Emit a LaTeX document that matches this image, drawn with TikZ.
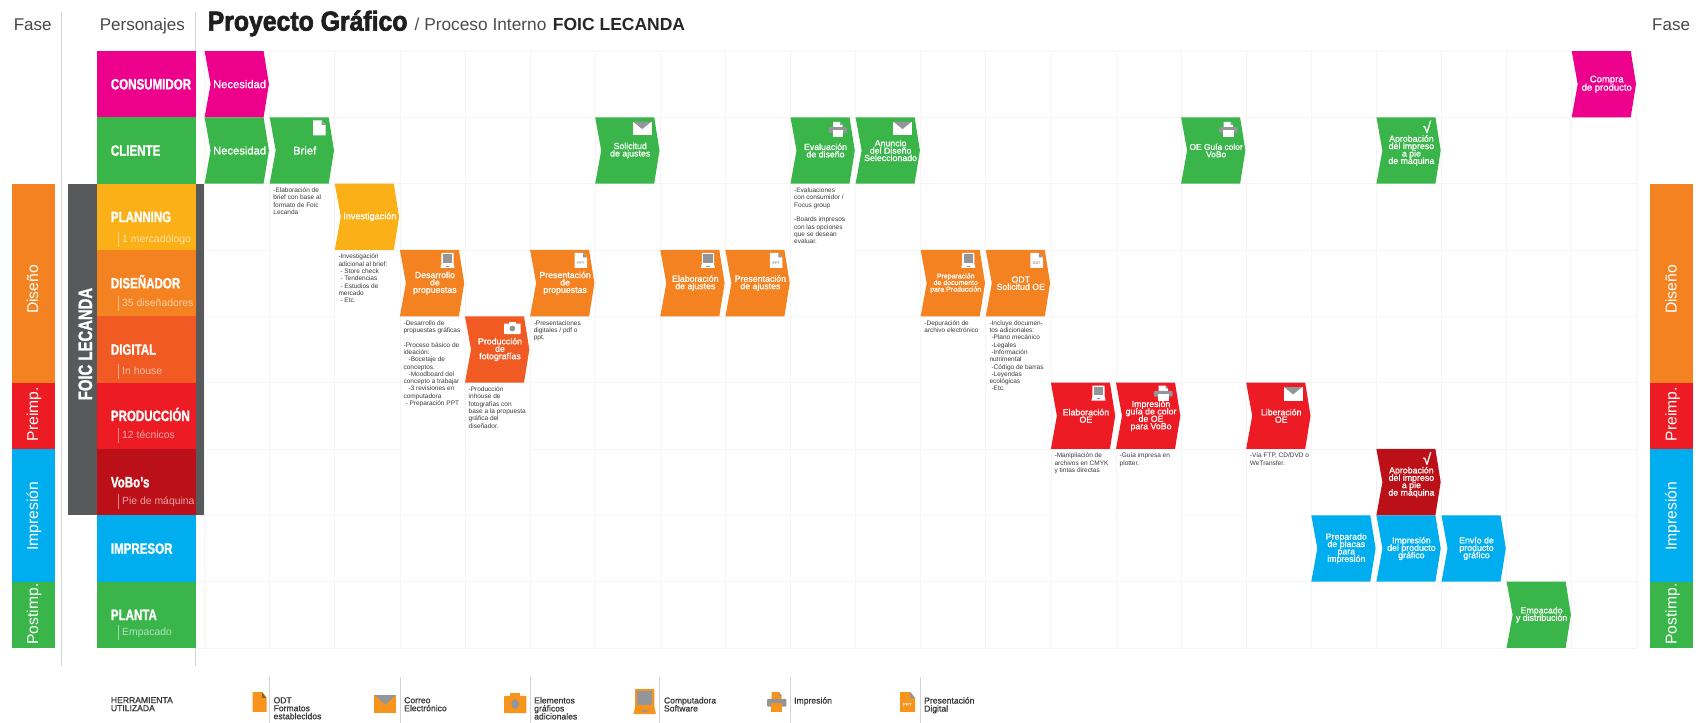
\documentclass[tikz,border=0pt]{standalone}
\usepackage{fontspec}
\usepackage{tikz}
\setmainfont{Liberation Sans}
\newfontface\lanefont{Liberation Sans Bold}[FakeStretch=0.77,FakeBold=1.2]
\newfontface\titlefont{Liberation Sans Bold}[FakeStretch=0.905,FakeBold=2.5]
\newfontface\stepfont{Liberation Sans}[FakeBold=1.1]
\lineskiplimit=-100pt
\definecolor{magentaC}{HTML}{EC008C}
\definecolor{greenC}{HTML}{39B54A}
\definecolor{yellowC}{HTML}{FBB017}
\definecolor{orangeC}{HTML}{F58220}
\definecolor{digitalC}{HTML}{F15A22}
\definecolor{redC}{HTML}{ED1C24}
\definecolor{vinoC}{HTML}{BC1018}
\definecolor{blueC}{HTML}{00AEEF}
\definecolor{barC}{HTML}{58595B}
\definecolor{gridC}{HTML}{F5F5F5}
\definecolor{ruleC}{HTML}{D4D4D4}
\definecolor{iconC}{HTML}{939598}
\definecolor{toolC}{HTML}{F7941E}
\definecolor{foldC}{HTML}{8C6A1A}
\definecolor{noteC}{HTML}{3A3A3A}
\tikzset{
  x=1pt,y=-1pt,
  steplabel/.style={text=white,align=center,inner sep=0pt,font=\stepfont\fontsize{8.8}{7.4}\selectfont},
  bigstep/.style={font=\stepfont\fontsize{11.2}{11}\selectfont},
  smallstep/.style={font=\stepfont\fontsize{7}{6.6}\selectfont},
  notetext/.style={anchor=north west,align=left,inner sep=0pt,text=noteC,font=\fontsize{6.5}{7.3}\selectfont},
  lanetitle/.style={anchor=west,inner sep=0pt,text=white,text height=10.8pt,text depth=0pt,font=\lanefont\fontsize{15}{15}\selectfont},
  lanesub/.style={anchor=west,inner sep=0pt,text=white,text opacity=.62,text height=7.3pt,text depth=0pt,font=\fontsize{10.4}{11}\selectfont},
  fasetext/.style={anchor=base,rotate=90,inner sep=0pt,text=white,font=\fontsize{15.7}{16}\selectfont},
  headtext/.style={anchor=base west,inner sep=0pt,text=black!72,font=\fontsize{17}{18}\selectfont},
  tooltext/.style={anchor=north west,align=left,inner sep=0pt,text=noteC,font=\stepfont\fontsize{8.6}{8}\selectfont},
  doctext/.style={inner sep=0pt,text=iconC,font=\bfseries\fontsize{3.6}{4}\selectfont},
  toolicon/.style={doctext/.append style={text=white,font=\bfseries\fontsize{4.4}{5}\selectfont}},
  cell/.style n args={4}{shift={({204.6+65.1*#1+#3},{51+66.33*#2+#4})}},
}
\newcommand{\flowstep}[6][]{\pgfmathsetmacro{\cellx}{204.6+65.1*#2}\pgfmathsetmacro{\celly}{51+66.33*#3}
\fill [#4] (\cellx,\celly) -- ++(59,0) -- ++(5.3,33.15) -- ++(-5.3,33.15) -- ++(-59,0) -- ++(6,-33.15) -- cycle;
\node at (\cellx+35,\celly+33.15) (#5) [steplabel,#1] {#6};}
\newcommand{\flownote}[5]{\pgfmathsetmacro{\cellx}{204.6+65.1*#1}\pgfmathsetmacro{\celly}{51+66.33*#2}
\fill [white] (\cellx+.8,\celly+.8) rectangle (\cellx+64.3,\celly+#3);
\node at (\cellx+3.5,\celly+4) (#4) [notetext] {#5};}
\newcommand{\flowlane}[6]{\pgfmathsetmacro{\celly}{51+66.33*#1}
\fill [#2] (97,\celly) rectangle (195.7,\celly+66.33);
\node at (110.7,\celly+33) (#3) [lanetitle] {#4};
\ifx&#5&\else
\draw [white,opacity=.5,line width=.8pt] (118,\celly+#6-7) -- (118,\celly+#6+8);
\node at (122,\celly+#6) (#3sub) [lanesub] {#5};
\fi}
\newcommand{\flowfase}[6]{\fill [#3] (#1,#4) rectangle (#1+42.7,#5);
\node at (#1+26.2,#6) (#2) [fasetext] {#2};}
\newcommand{\flowdoc}[5]{\begin{scope}[#1]
\fill [#2] (0,0) -- (8.5,0) -- (12.5,4.5) -- (12.5,15) -- (0,15) -- cycle;
\fill [#3] (8.5,0) -- (12.5,4.5) -- (8.5,4.5) -- cycle;
\ifx&#4&\else\node at (6.2,9.8) (#5) [doctext] {#4};\fi
\end{scope}}
\newcommand{\flowmail}[3]{\begin{scope}[#1]
\fill [#2] (0,0) rectangle (19.3,13.6);
\fill [#3] (.6,0) -- (18.7,0) -- (9.65,7.4) -- cycle;
\end{scope}}
\newcommand{\flowprint}[4]{\begin{scope}[#1]
\fill [#2] (4.5,0) -- (11.5,0) -- (14,3) -- (14,6.5) -- (4.5,6.5) -- cycle;
\fill [#4] (11.5,0) -- (14,3) -- (11.5,3) -- cycle;
\fill [#3,rounded corners=1pt] (0,5.2) rectangle (18.5,11);
\fill [#2] (4,8.6) rectangle (14.5,15);
\end{scope}}
\newcommand{\flowpc}[3]{\begin{scope}[#1]
\fill [#2,rounded corners=.6pt] (1,0) rectangle (13.2,11.5);
\fill [#3] (2.4,1.4) rectangle (11.8,9.6);
\fill [#2] (1,10.8) -- (13.2,10.8) -- (14.2,15) -- (0,15) -- cycle;
\fill [#3] (5.4,12.6) rectangle (8.8,13.6);
\end{scope}}
\newcommand{\flowcam}[3]{\begin{scope}[#1]
\fill [#2,rounded corners=.6pt] (0,1.8) rectangle (16.7,12.3);
\fill [#2] (4.5,0) rectangle (12,2);
\fill [#3] (8.35,6.8) circle (2.9);
\end{scope}}
\newcommand{\flowcheck}[3]{\pgfmathsetmacro{\cellx}{204.6+65.1*#1}\pgfmathsetmacro{\celly}{51+66.33*#2}
\node at (\cellx+50.5,\celly+9.5) (#3) [inner sep=0pt,text=white,font=\stepfont\fontsize{15.5}{15.5}\selectfont] {√};}
\newcommand{\flowtool}[3]{\draw [ruleC,line width=.9pt] (#1,677) -- (#1,723);
\node at (#1+4,697) (#2) [tooltext] {#3};}

\begin{document}
\begin{tikzpicture}
\useasboundingbox (0,0) rectangle (1701,723);

\foreach \i in {0,...,22} {\draw [gridC,line width=.8pt] ({204.6+65.1*\i},51) -- ({204.6+65.1*\i},648);}
\foreach \j in {0,...,9} {\draw [gridC,line width=.8pt] (195.7,{51+66.33*\j}) -- (1636.8,{51+66.33*\j});}

\draw [ruleC,line width=1.5pt] (61.4,12) -- (61.4,666);
\draw [ruleC,line width=1.2pt] (195.7,12) -- (195.7,666);

\node at (13.6,30.5) (faseizq) [headtext] {Fase};
\node at (1652,30.5) (faseder) [headtext] {Fase};
\node at (99.6,30.5) (personajes) [headtext] {Personajes};
\node at (207.5,30.6) (titulo) [anchor=base west,inner sep=0pt,text=black!88,font=\titlefont\fontsize{27.4}{28}\selectfont] {Proyecto Gráfico};
\node at (414.5,30.6) (proceso) [headtext,text=black!70,font=\fontsize{17.3}{18}\selectfont] {/ Proceso Interno};
\node at (552.7,30.6) (foictitulo) [anchor=base west,inner sep=0pt,text=black!85,font=\bfseries\fontsize{17.5}{18}\selectfont] {FOIC LECANDA};

\flowfase{12}{Diseño}{orangeC}{183.7}{382.7}{289.5}
\flowfase{12}{Preimp.}{redC}{382.7}{449}{414}
\flowfase{12}{Impresión}{blueC}{449}{581.7}{516}
\flowfase{12}{Postimp.}{greenC}{581.7}{648}{614}
\flowfase{1650.3}{Diseño}{orangeC}{183.7}{382.7}{289.5}
\flowfase{1650.3}{Preimp.}{redC}{382.7}{449}{414}
\flowfase{1650.3}{Impresión}{blueC}{449}{581.7}{516}
\flowfase{1650.3}{Postimp.}{greenC}{581.7}{648}{614}

\fill [barC] (68,183.7) rectangle (204.3,515.3);
\node at (92,344) (foic) [anchor=base,rotate=90,inner sep=0pt,text=white,font=\lanefont\fontsize{19.3}{20}\selectfont] {FOIC LECANDA};

\flowlane{0}{magentaC}{consumidor}{CONSUMIDOR}{}{}
\flowlane{1}{greenC}{cliente}{CLIENTE}{}{}
\flowlane{2}{yellowC}{planning}{PLANNING}{1 mercadólogo}{55}
\flowlane{3}{orangeC}{disenador}{DISEÑADOR}{35 diseñadores}{52.7}
\flowlane{4}{digitalC}{digital}{DIGITAL}{In house}{54.7}
\flowlane{5}{redC}{produccion}{PRODUCCIÓN}{12 técnicos}{52}
\flowlane{6}{vinoC}{vobo}{VoBo’s}{Pie de máquina}{52}
\flowlane{7}{blueC}{impresor}{IMPRESOR}{}{}
\flowlane{8}{greenC}{planta}{PLANTA}{Empacado}{50.3}

\flownote{1}{2}{132}{notebrief}{-Elaboración de\\brief con base al\\formato de Foic\\Lecanda}
\flownote{2}{3}{125}{noteinvest}{-Investigación\\adicional al brief:\\\hspace*{2pt}- Store check\\\hspace*{2pt}- Tendencias\\\hspace*{2pt}- Estudios de\\mercado\\\hspace*{2pt}- Etc.}
\flownote{3}{4}{155}{notedesarrollo}{-Desarrollo de\\propuestas gráficas\\[7.3pt]-Proceso básico de\\ideación:\\\hspace*{5pt}-Bocetaje de\\conceptos.\\\hspace*{5pt}-Moodboard del\\concepto a trabajar\\\hspace*{5pt}-3 revisiones en\\computadora\\\hspace*{2pt}- Preparación PPT}
\flownote{4}{5}{87}{notefotos}{-Producción\\inhouse de\\fotografías con\\base a la propuesta\\gráfica del\\diseñador.}
\flownote{5}{4}{60}{notepresenta}{-Presentaciones\\digitales / pdf o\\ppt.}
\flownote{9}{2}{88}{noteevalua}{-Evaluaciones\\con consumidor /\\Focus group\\[7.3pt]-Boards impresos\\con las opciones\\que se desean\\evaluar.}
\flownote{11}{4}{88}{notedepura}{-Depuración de\\archivo electrónico}
\flownote{12}{4}{88}{noteincluye}{-Incluye documen-\\tos adicionales:\\\hspace*{2pt}-Plano mecánico\\\hspace*{2pt}-Legales\\\hspace*{2pt}-Información\\nutrimental\\\hspace*{2pt}-Código de barras\\\hspace*{2pt}-Leyendas\\ecológicas\\\hspace*{2pt}-Etc.}
\flownote{13}{6}{88}{notemanipula}{-Manipilación de\\archivos en CMYK\\y tintas directas}
\flownote{14}{6}{88}{noteguia}{-Guía impresa en\\plotter.}
\flownote{16}{6}{88}{notevia}{-Vía FTP, CD/DVD o\\WeTransfer.}

\flowstep[bigstep]{0}{0}{magentaC}{necesidadA}{Necesidad}
\flowstep[bigstep]{0}{1}{greenC}{necesidadB}{Necesidad}
\flowstep[bigstep]{1}{1}{greenC}{brief}{Brief}
\flowstep{6}{1}{greenC}{solicitud}{Solicitud\\de ajustes}
\flowstep{9}{1}{greenC}{evaluacion}{Evaluación\\de diseño}
\flowstep{10}{1}{greenC}{anuncio}{Anuncio\\del Diseño\\Seleccionado}
\flowstep[font=\stepfont\fontsize{8.4}{7.4}\selectfont]{15}{1}{greenC}{guiacolor}{OE Guía color\\VoBo}
\flowstep{18}{1}{greenC}{aprobacionA}{Aprobación\\del impreso\\a pie\\de máquina}
\flowstep[font=\stepfont\fontsize{9.5}{8.3}\selectfont]{21}{0}{magentaC}{compra}{Compra\\de producto}
\flowstep[font=\stepfont\fontsize{9.1}{9}\selectfont]{2}{2}{yellowC}{investigacion}{Investigación}
\flowstep{3}{3}{orangeC}{desarrollo}{Desarrollo\\de\\propuestas}
\flowstep{5}{3}{orangeC}{presentaA}{Presentación\\de\\propuestas}
\flowstep{7}{3}{orangeC}{elaboraA}{Elaboración\\de ajustes}
\flowstep{8}{3}{orangeC}{presentaB}{Presentación\\de ajustes}
\flowstep[smallstep]{11}{3}{orangeC}{preparacion}{Preparación\\de documento\\para Producción}
\flowstep{12}{3}{orangeC}{odt}{ODT\\Solicitud OE}
\flowstep{4}{4}{digitalC}{fotos}{Producción\\de\\fotografías}
\flowstep{13}{5}{redC}{elaboraB}{Elaboración\\OE}
\flowstep{14}{5}{redC}{impresionA}{Impresión\\guía de color\\de OE\\para VoBo}
\flowstep{16}{5}{redC}{liberacion}{Liberación\\OE}
\flowstep{18}{6}{vinoC}{aprobacionB}{Aprobación\\del impreso\\a pie\\de máquina}
\flowstep{17}{7}{blueC}{preparado}{Preparado\\de placas\\para\\impresión}
\flowstep{18}{7}{blueC}{impresionB}{Impresión\\del producto\\gráfico}
\flowstep{19}{7}{blueC}{envio}{Envío de\\producto\\gráfico}
\flowstep{20}{8}{greenC}{empacado}{Empacado\\y distribución}

\flowdoc{cell={1}{1}{43.5}{3}}{white}{iconC}{}{}
\flowmail{cell={6}{1}{37.3}{4.4}}{white}{iconC}
\flowprint{cell={9}{1}{38}{4.5}}{white}{iconC}{iconC}
\flowmail{cell={10}{1}{37.3}{4.4}}{white}{iconC}
\flowprint{cell={15}{1}{38}{4.5}}{white}{iconC}{iconC}
\flowcheck{18}{1}{checkA}
\flowpc{cell={3}{3}{40.5}{3}}{white}{iconC}
\flowdoc{cell={5}{3}{44.5}{3}}{white}{iconC}{PPT}{pptA}
\flowpc{cell={7}{3}{40.5}{3}}{white}{iconC}
\flowdoc{cell={8}{3}{44.5}{3}}{white}{iconC}{PPT}{pptB}
\flowpc{cell={11}{3}{40.5}{3}}{white}{iconC}
\flowdoc{cell={12}{3}{44.5}{3}}{white}{iconC}{ODT}{odtA}
\flowcam{cell={4}{4}{39}{5.4}}{white}{iconC}
\flowpc{cell={13}{5}{40.5}{3}}{white}{iconC}
\flowprint{cell={14}{5}{38}{3}}{white}{iconC}{iconC}
\flowmail{cell={16}{5}{37.3}{4.4}}{white}{iconC}
\flowcheck{18}{6}{checkB}

\node at (110.7,697) (herramienta) [tooltext] {HERRAMIENTA\\UTILIZADA};
\flowtool{269.4}{toolodt}{ODT\\Formatos\\establecidos}
\flowtool{400}{toolcorreo}{Correo\\Electrónico}
\flowtool{530}{toolfoto}{Elementos\\gráficos\\adicionales}
\flowtool{659.8}{toolpc}{Computadora\\Software}
\flowtool{790}{toolprint}{Impresión}
\flowtool{920}{toolppt}{Presentación\\Digital}
\flowdoc{shift={(252.5,692)},xscale=1.12,yscale=1.33}{toolC}{foldC}{}{}
\flowmail{shift={(374,695)},xscale=1.16,yscale=1.32}{toolC}{iconC}
\flowcam{shift={(504,693)},xscale=1.34,yscale=1.63}{toolC}{iconC}
\flowpc{shift={(633.5,689)},xscale=1.58,yscale=1.68}{toolC}{iconC}
\flowprint{shift={(767,692)},xscale=1.05,yscale=1.33}{toolC}{iconC}{iconC}
\flowdoc{shift={(900,692)},xscale=1.2,yscale=1.33,toolicon}{toolC}{iconC}{PPT}{pptC}
\end{tikzpicture}
\end{document}
